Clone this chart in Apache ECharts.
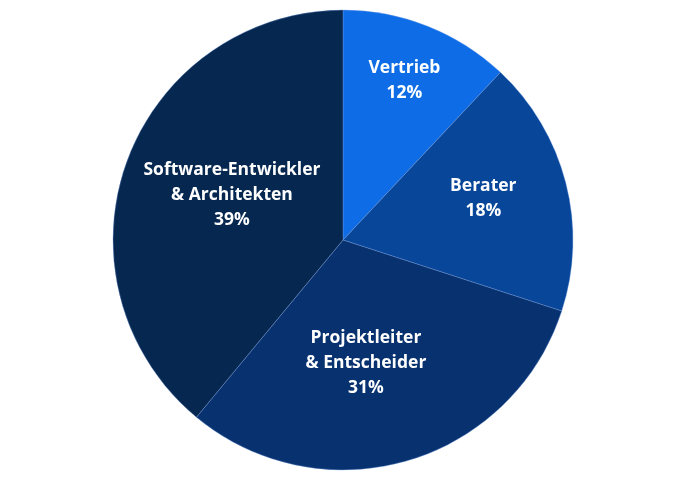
<!DOCTYPE html>
<html><head><meta charset="utf-8">
<script src="https://cdn.jsdelivr.net/npm/echarts@6/dist/echarts.min.js"></script>
<style>html,body{margin:0;padding:0;background:#fff}#c{width:686px;height:479px}</style>
</head><body><div id="c"></div>
<script>
const categories = ['Vertrieb', 'Berater', 'Projektleiter\n& Entscheider', 'Software-Entwickler\n& Architekten'];
const values = [12, 18, 31, 39];
const colors = ['#0e6de6', '#08469a', '#07316f', '#06274f'];
const labelShift = [[18, -50], [26, -12], [-10, 10], [0, -5]];

const chart = echarts.init(document.getElementById('c'));
chart.setOption({
  animation: false,
  series: [{
    type: 'pie',
    center: [343, 240],
    radius: [0, 230],
    startAngle: 90,
    clockwise: true,
    data: categories.map((n, i) => ({ name: n, value: values[i], itemStyle: { color: colors[i] } })),
    itemStyle: { borderColor: 'rgba(120,160,230,0.6)', borderWidth: 0.6 },
    label: {
      show: true,
      position: 'inside',
      formatter: p => p.name + '\n' + p.value + '%',
      color: '#fff',
      fontFamily: 'Open Sans',
      fontWeight: 'bold',
      fontSize: 17.5,
      lineHeight: 25,
      align: 'center'
    },
    labelLine: { show: false },
    labelLayout: p => ({ dx: labelShift[p.dataIndex][0], dy: labelShift[p.dataIndex][1] }),
    emphasis: { disabled: true }
  }]
});
</script></body></html>
